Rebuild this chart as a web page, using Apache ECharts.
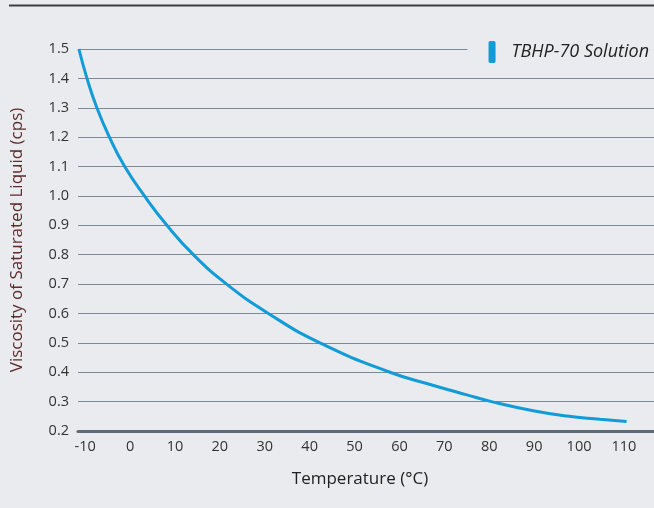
<!DOCTYPE html>
<html>
<head>
<meta charset="utf-8">
<script src="https://cdn.jsdelivr.net/npm/echarts@6/dist/echarts.min.js"></script>
<style>
  html, body { margin: 0; padding: 0; background: #e9ebee; }
  #chart { width: 654px; height: 508px; }
</style>
</head>
<body>
<div id="chart"></div>
<script>
// temperature (°C) and viscosity (cps)
const temps = [-11.4, -9.6, -7.4, -4.6, -1.2, 3.2, 8.2, 14.1, 21.5, 30.8, 42.3, 57.9, 67.6, 75, 80.5, 89.8, 97.3, 104.7, 110.6]
const viscosity = [1.5, 1.4, 1.3, 1.2, 1.1, 1.0, 0.9, 0.8, 0.7, 0.6, 0.5, 0.4, 0.355, 0.323, 0.3, 0.269, 0.251, 0.24, 0.232]
const xTicks = [-10, 0, 10, 20, 30, 40, 50, 60, 70, 80, 90, 100, 110]
const seriesName = 'TBHP-70 Solution'

const chart = echarts.init(document.getElementById('chart'))

const font = '"Open Sans", "Noto Sans", sans-serif'

chart.setOption({
  backgroundColor: '#e9ebee',
  animation: false,
  textStyle: { fontFamily: font },
  graphic: [{
    type: 'line',
    shape: { x1: 9, y1: 5.5, x2: 654, y2: 5.5 },
    style: { stroke: '#3d3f42', lineWidth: 2 }
  }],
  legend: {
    right: 0,
    top: 37,
    padding: [4, 5, 4, 21],
    backgroundColor: '#e9ebee',
    itemWidth: 7,
    itemHeight: 22,
    icon: 'roundRect',
    textStyle: { fontSize: 18, fontStyle: 'italic', color: '#222', fontFamily: font, padding: [0, 0, 0, 11] },
    data: [seriesName]
  },
  grid: { left: 78, right: 0, top: 49, bottom: 77, containLabel: false, outerBoundsMode: 'none' },
  xAxis: {
    type: 'value',
    min: -11.6,
    max: 116.7,
    name: 'Temperature (°C)',
    nameLocation: 'middle',
    nameGap: 40,
    nameTextStyle: { fontSize: 17, color: '#222', padding: [0, 12, 0, 0] },
    axisLine: { show: true, lineStyle: { color: '#5b6b77', width: 3 } },
    axisTick: { show: false },
    splitLine: { show: false },
    axisLabel: { customValues: xTicks, fontSize: 14.5, color: '#333', margin: 8 }
  },
  yAxis: {
    type: 'value',
    min: 0.2,
    max: 1.5,
    interval: 0.1,
    name: 'Viscosity of Saturated Liquid (cps)',
    nameLocation: 'middle',
    nameGap: 52,
    nameTextStyle: { fontSize: 17, color: '#5c2b2b' },
    axisLine: { show: false },
    axisTick: { show: false },
    axisLabel: { fontSize: 14.5, color: '#333', margin: 9, formatter: v => v.toFixed(1) },
    splitLine: { lineStyle: { color: '#7a8a97', width: 1 } }
  },
  series: [{
    name: seriesName,
    type: 'line',
    data: temps.map((t, i) => [t, viscosity[i]]),
    smooth: 0.5,
    showSymbol: false,
    lineStyle: { color: '#119bd7', width: 3 },
    itemStyle: { color: '#119bd7' }
  }]
})
</script>
</body>
</html>
